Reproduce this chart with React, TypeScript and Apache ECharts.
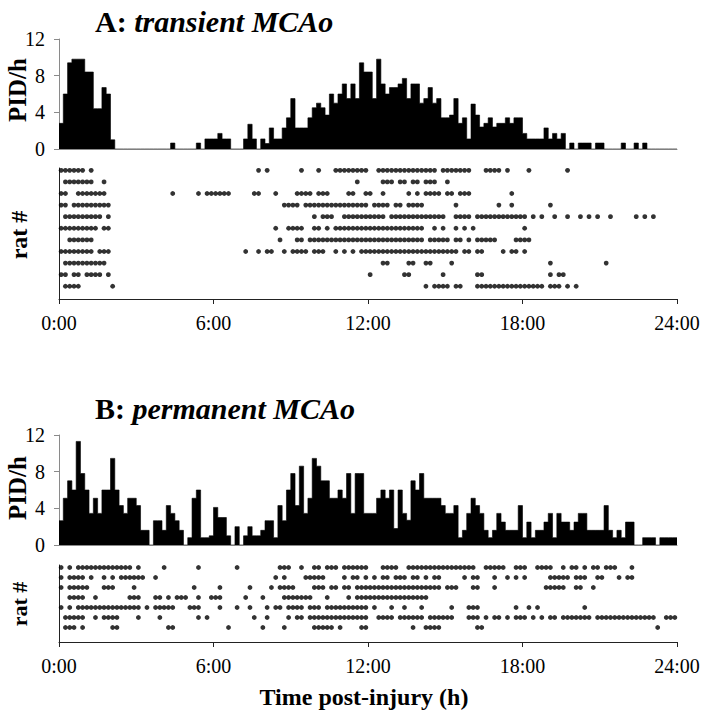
import React, { useEffect, useRef } from "react";
import * as echarts from "echarts";

// ---- data (10-minute bins over 24 h) ----
const TIME_TICK_LABELS = ["0:00", "6:00", "12:00", "18:00", "24:00"];
const PID_TICKS = [0, 4, 8, 12];
const BINS_PER_HOUR = 6;

// Panel A histogram (PID/h per 10-min bin), 24 groups of 6 bins
const HIST_A = [
  2.8, 6.0, 9.4, 9.8, 9.8, 9.8,
  8.4, 8.4, 4.4, 4.4, 6.7, 6.0,
  1.0, 0, 0, 0, 0, 0,
  0, 0, 0, 0, 0, 0,
  0, 0, 0.65, 0, 0, 0,
  0, 0, 0.65, 0, 1.1, 1.1,
  1.1, 1.7, 1.1, 1.1, 0, 0,
  0, 1.1, 2.7, 1.1, 0, 1.1,
  0.6, 2.3, 1.1, 1.1, 2.3, 3.4,
  5.5, 2.3, 2.3, 2.3, 3.4, 4.5,
  5.0, 4.5, 3.7, 6.0, 5.0, 6.0,
  7.1, 5.5, 7.1, 5.5, 9.4, 8.4,
  8.4, 5.5, 9.8, 7.1, 6.0, 6.7,
  6.7, 7.1, 7.7, 5.5, 7.1, 7.1,
  5.0, 5.5, 6.7, 5.0, 5.5, 3.4,
  3.4, 3.7, 5.5, 2.8, 3.4, 1.1,
  4.9, 3.7, 2.4, 2.8, 3.4, 2.4,
  2.8, 2.8, 3.4, 2.8, 3.4, 3.4,
  1.7, 1.1, 1.1, 1.1, 1.1, 2.3,
  1.1, 1.7, 1.1, 1.7, 0, 0.65,
  0, 0.65, 0.65, 0.65, 0, 0.65,
  0.65, 0, 0, 0, 0, 0.65,
  0, 0, 0.65, 0, 0.65, 0,
  0, 0, 0, 0, 0, 0,
];

// Panel B histogram
const HIST_B = [
  2.65, 5.1, 7.0, 6.0, 11.3, 7.8,
  6.0, 3.45, 5.1, 3.45, 6.0, 6.0,
  9.45, 6.0, 4.3, 3.45, 5.1, 5.1,
  4.3, 1.6, 1.6, 0, 2.65, 2.65,
  1.6, 4.3, 3.45, 2.65, 1.6, 0,
  0.8, 5.1, 6.0, 0.8, 0.8, 1.0,
  4.1, 3.0, 3.0, 1.0, 0, 2.0,
  0, 1.0, 2.0, 1.0, 1.0, 1.6,
  2.65, 2.65, 0.8, 4.3, 2.65, 6.0,
  7.8, 4.3, 8.6, 3.45, 5.1, 9.45,
  8.6, 7.0, 7.0, 5.1, 5.1, 6.0,
  5.1, 7.8, 3.45, 7.8, 7.8, 3.45,
  3.45, 3.45, 5.1, 6.0, 5.1, 6.0,
  1.8, 6.0, 3.45, 2.7, 7.0, 6.0,
  7.8, 5.1, 5.1, 5.1, 5.1, 4.3,
  3.45, 3.45, 4.3, 0.8, 1.6, 3.45,
  5.1, 4.3, 3.45, 1.6, 0.8, 1.6,
  3.45, 2.5, 1.6, 1.6, 1.6, 4.3,
  0.8, 2.5, 0.8, 1.6, 1.6, 2.5,
  3.45, 0.8, 3.45, 2.5, 2.5, 1.6,
  2.5, 3.45, 3.45, 1.6, 1.6, 1.6,
  1.6, 4.3, 1.6, 0.8, 1.6, 0.8,
  2.5, 2.5, 0, 0, 0.8, 0.8,
  0.8, 0, 0.8, 0.8, 0.8, 0.8,
];

// Raster rows: one char per 10-min bin ("o" = event), grouped by hour
const RASTER_A = [
  "oooooo .o.... ...... ...... ...... ...... ...... ....o. o..... ..o... o...oo oooooo ..oooo oooooo oooo.o oooooo ...ooo o.o... .o.... ....o. ...... ...... ...... ......",
  ".ooooo oo..o. ...... ...... ...... ...... ...... ...... ...... ...... ...... ...o.. ...ooo .oo.oo .ooo.. o..... ...... ...... ...... ...... ...... ...... ...... ......",
  "oo..oo ooooo. ...... ...... ..o... ..o.oo oooo.. ...oo. ..o... .oooo. ooo... .oo..o o..o.. ...o.o .oooo. oo.ooo ...... ...o.. ...... ...... ...... ...... ...... ......",
  "oo.ooo oooooo ...... ...... ...... ...... ...... ...... ....oo oo.ooo oooooo oooooo .oooo. oo.ooo o..... ..o... ...... o..o.. ...... o..... ...... ...... ...... ......",
  ".ooooo oooo.o ...... ...... ...... ...... ...... ...... ...... .....o .ooo.. oooooo oooo.o oooooo oooooo ..oooo .ooooo oooooo o.o.o. .o..o. .o.o.o ..o... ..o.o. o.....",
  "oooooo ooo.oo ...... ...... ...... ...... ...... ...... ..o..o ooo..o o.o.oo oooooo oooooo oooooo o..o.o ..o.o. o..... ...... o..... ...... ...... ...... ...... ......",
  "..oooo oo.... ...... ...... ...... ...... ...... ...... ...o.. .oo.oo oooooo oooooo oooooo oooooo o.oooo o.oo.o .ooooo ....oo oo.... ...... ...... ...... ...... ......",
  "oooooo oo.ooo ...... ...... ...... ...... ...... .o..o. oo..o. oooo.o oo..o. o.o.oo oooooo oooooo oooooo ooo.oo .oo... .o.oo. o..... ...... ...... ...... ...... ......",
  ".ooooo ooooo. ...... ...... ...... ...... ...... ...... ...... ...... ...... ...... ...oo. ...oo. .oo... .o.... ...... ...... ...... o..... ...... .o.... ...... ......",
  "oo.oo. oooo.o ...... ...... ...... ...... ...... ...... ...... ...... ...... ...... o..... ..oo.. .....o ...... .oo... ...... ...... o.oo.. ...... ...... ...... ......",
  ".oooo. ...... o..... ...... ...... ...... ...... ...... ...... ...... ...... ...... ...... ...... .o.ooo o.oo.. .ooooo oooooo ooooo. ooo.o. o..... ...... ...... ......",
];

const RASTER_B = [
  "o.o.oo oooooo ooooo. o..... o..... ..o... .....o ...... ...ooo ..o..o o.ooo. oooooo ...ooo o..ooo oooooo oooooo o..ooo oo..oo o..ooo o..o.o o.o.oo .ooo.. .o.... ......",
  "o.oooo .o..o. o.oooo oo..o. ...... ...... ...... ...... ..o.o. ...ooo oo.... o.oo.o .o.oo. ooo.oo .o.oo. ....o. oo...o ..o.o. o..... ooooo. ooo..o o...o. oo.... ......",
  "o.oooo o...oo o....o ...... ...... .o.... .o.... ..o... .o.ooo o....o oo.oo. oo.ooo oooooo oooooo ooooo. ooo... oo...o ...... .....o oooo.. oo..o. ...... ...... ......",
  "..oooo ..o... ....oo o...oo .o.ooo ..o..o oo.... .o...o ....oo ooooo. ..o... .o.ooo oooooo oooooo oo.... ...... ...... ...... ...... ...... ...... ...... ...... ......",
  "o.o.oo oooooo oooooo o.o.oo ooo... ooo... .o...o ..o... o.oo.o ooo.oo o.oooo oooooo .o...o ..o... o..... .o...o oo.... ....o. .o.o.. ...... ..o... ...... ...... ......",
  ".ooooo ..o.oo oo.... o....o ...... ..o.o. ...... ...o.. o....o .oo.oo oooooo oooooo ..oooo .ooooo o.oooo oo...o oo.o.o o.o.oo o.o.o. oo.ooo oooo.o oooooo oooooo o..ooo",
  ".ooo.o ...... oo.... ...... .oo... ...... ...o.. .....o ....o. .....o oooo.o ....oo ...... ....o. .oooo. ...... .oo... ...... ...... ...... ...... ...... ...... .o....",
];

const SERIF = "'Liberation Serif', 'Times New Roman', serif";

function rasterPoints(rows: string[]): number[][] {
  const pts: number[][] = [];
  rows.forEach((row, r) => {
    const s = row.replace(/ /g, "");
    for (let k = 0; k < s.length; k++) {
      if (s[k] === "o") pts.push([(k + 0.5) / BINS_PER_HOUR, r + 1]);
    }
  });
  return pts;
}

// histogram as a stepped outline: each bin value placed at its bin start time
function histSteps(values: number[]): number[][] {
  const pts = values.map((v, i) => [i / BINS_PER_HOUR, v]);
  pts.push([values.length / BINS_PER_HOUR, values[values.length - 1]]);
  return pts;
}

const GRID_LEFT = 59;
const GRID_W = 618;

function histX(gridIndex: number) {
  return {
    gridIndex,
    type: "value",
    min: 0,
    max: 24,
    interval: 6,
    axisLine: { show: true, onZero: false, lineStyle: { color: "#8a8a8a", width: 1 } },
    axisTick: { show: false },
    axisLabel: { show: false },
    splitLine: { show: false },
  };
}

function timeX(gridIndex: number) {
  return {
    gridIndex,
    type: "value",
    min: 0,
    max: 24,
    interval: 6,
    axisLine: { show: true, onZero: false, lineStyle: { color: "#222", width: 1 } },
    axisTick: { show: true, length: 5, lineStyle: { color: "#222" } },
    axisLabel: {
      fontFamily: SERIF,
      fontSize: 20,
      color: "#000",
      margin: 14,
      formatter: (v: number) => TIME_TICK_LABELS[Math.round(v / 6)] ?? "",
    },
    splitLine: { show: false },
  };
}

function pidY(gridIndex: number) {
  return {
    gridIndex,
    type: "value",
    min: PID_TICKS[0],
    max: PID_TICKS[PID_TICKS.length - 1],
    interval: 4,
    axisLine: { show: true, lineStyle: { color: "#8a8a8a", width: 1 } },
    axisTick: { show: true, length: 5, lineStyle: { color: "#8a8a8a" } },
    axisLabel: { fontFamily: SERIF, fontSize: 20, color: "#000", margin: 14 },
    splitLine: { show: false },
  };
}

function ratY(gridIndex: number, min: number, max: number) {
  return {
    gridIndex,
    type: "value",
    min,
    max,
    inverse: true,
    axisLine: { show: true, onZero: false, lineStyle: { color: "#222", width: 1 } },
    axisTick: { show: false },
    axisLabel: { show: false },
    splitLine: { show: false },
  };
}

function label(text: string, x: number, y: number, size: number, rotate = false) {
  return {
    type: "text",
    x,
    y,
    rotation: rotate ? Math.PI / 2 : 0,
    style: {
      text,
      fontFamily: SERIF,
      fontSize: size,
      fontWeight: "bold",
      fill: "#000",
      align: "center",
      verticalAlign: "middle",
    },
  };
}

function title(letter: string, rest: string, x: number, y: number, size: number) {
  return {
    type: "text",
    x,
    y,
    style: {
      text: `{a|${letter} }{b|${rest}}`,
      fill: "#000",
      align: "left",
      verticalAlign: "middle",
      rich: {
        a: { fontFamily: SERIF, fontSize: size, fontWeight: "bold", fill: "#000" },
        b: { fontFamily: SERIF, fontSize: size, fontWeight: "bold", fontStyle: "italic", fill: "#000" },
      },
    },
  };
}

function histSeries(values: number[], axisIndex: number) {
  return {
    type: "line",
    xAxisIndex: axisIndex,
    yAxisIndex: axisIndex,
    data: histSteps(values),
    step: "end",
    symbol: "none",
    lineStyle: { color: "#000", width: 0.6 },
    areaStyle: { color: "#000", opacity: 1 },
    z: 1,
  };
}

function rasterSeries(rows: string[], axisIndex: number) {
  return {
    type: "scatter",
    xAxisIndex: axisIndex,
    yAxisIndex: axisIndex,
    data: rasterPoints(rows),
    symbol: "circle",
    symbolSize: 4.8,
    itemStyle: { color: "#000" },
  };
}

export default function App() {
  const ref = useRef<HTMLDivElement>(null);
  useEffect(() => {
    if (!ref.current) return;
    const chart = echarts.init(ref.current, undefined, { renderer: "svg" });
    chart.setOption({
      animation: false,
      backgroundColor: "#fff",
      grid: [
        { left: GRID_LEFT, width: GRID_W, top: 39, height: 110 },
        { left: GRID_LEFT, width: GRID_W, top: 168, height: 131 },
        { left: GRID_LEFT, width: GRID_W, top: 435, height: 110 },
        { left: GRID_LEFT, width: GRID_W, top: 565, height: 77 },
      ],
      xAxis: [histX(0), timeX(1), histX(2), timeX(3)],
      yAxis: [pidY(0), ratY(1, 0.8, 12.1), pidY(2), ratY(3, 0.75, 8.45)],
      series: [
        histSeries(HIST_A, 0),
        rasterSeries(RASTER_A, 1),
        histSeries(HIST_B, 2),
        rasterSeries(RASTER_B, 3),
      ],
      graphic: [
        title("A:", "transient MCAo", 95, 21, 30),
        title("B:", "permanent MCAo", 95, 408, 30),
        label("PID/h", 17, 90, 25, true),
        label("PID/h", 17, 488, 25, true),
        label("rat #", 19, 235, 24, true),
        label("rat #", 19, 604, 22, true),
        label("Time post-injury (h)", 364, 697, 24),
      ],
    });
    return () => chart.dispose();
  }, []);
  return (
    <div
      ref={ref}
      style={{ position: "absolute", left: 0, top: 0, width: 706, height: 720, background: "#fff" }}
    />
  );
}
